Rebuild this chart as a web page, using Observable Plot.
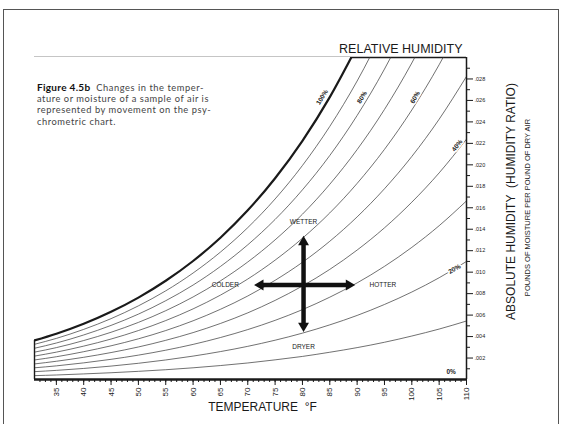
<!DOCTYPE html>
<html><head><meta charset="utf-8">
<script src="https://cdn.jsdelivr.net/npm/d3@7"></script>
<script src="https://cdn.jsdelivr.net/npm/@observablehq/plot@0.6"></script>
<style>
body{margin:0;background:#fff;}
#wrap{position:relative;width:563px;height:424px;overflow:hidden;background:#fff;}
#chart{position:absolute;left:0;top:0;}
#border{position:absolute;left:3px;top:9px;width:556px;height:430px;border:1.5px solid #555;box-sizing:border-box;pointer-events:none;}
#caption{position:absolute;left:37px;top:82px;font-family:Lato,sans-serif;font-size:9.3px;line-height:11.2px;color:#444;white-space:nowrap;letter-spacing:0.55px;}
#caption b{font-size:10px;color:#111;letter-spacing:0.3px;}
</style></head><body>
<div id="wrap"><div id="chart"></div><div id="border"></div>
<div id="caption"><b>Figure 4.5b</b>&nbsp; Changes in the temper-<br>ature or moisture of a sample of air is<br>represented by movement on the psy-<br>chrometric chart.</div></div>
<script>
// Temperatures (°F) at which the curves were read
const temps = [31,35,40,45,50,55,60,65,70,75,80,85,90,95,100,105,110];
// Humidity ratio (lb moisture / lb dry air) for each relative-humidity curve
const rh100 = [0.00364,0.00426,0.00519,0.00631,0.00763,0.00920,0.01104,0.01321,0.01576,0.01875,0.02224,0.02631,0.03105];
const rh90  = [0.00328,0.00383,0.00467,0.00567,0.00686,0.00826,0.00992,0.01187,0.01415,0.01682,0.01994,0.02358,0.02781,0.03273];
const rh80  = [0.00291,0.00340,0.00415,0.00504,0.00609,0.00734,0.00880,0.01053,0.01255,0.01491,0.01767,0.02087,0.02460,0.02892,0.03393];
const rh70  = [0.00255,0.00297,0.00363,0.00440,0.00532,0.00641,0.00769,0.00919,0.01095,0.01301,0.01540,0.01819,0.02142,0.02516,0.02949,0.03449];
const rh60  = [0.00218,0.00255,0.00311,0.00377,0.00456,0.00549,0.00658,0.00786,0.00936,0.01112,0.01316,0.01552,0.01827,0.02144,0.02511,0.02933,0.03419];
const rh50  = [0.00182,0.00212,0.00259,0.00314,0.00379,0.00456,0.00547,0.00654,0.00778,0.00924,0.01092,0.01288,0.01515,0.01777,0.02078,0.02425,0.02824];
const rh40  = [0.00145,0.00170,0.00207,0.00251,0.00303,0.00365,0.00437,0.00522,0.00621,0.00737,0.00871,0.01026,0.01206,0.01413,0.01652,0.01925,0.02239];
const rh30  = [0.00109,0.00127,0.00155,0.00188,0.00227,0.00273,0.00327,0.00391,0.00465,0.00551,0.00651,0.00767,0.00900,0.01054,0.01231,0.01433,0.01664];
const rh20  = [0.00073,0.00085,0.00103,0.00125,0.00151,0.00182,0.00218,0.00260,0.00309,0.00366,0.00432,0.00509,0.00597,0.00699,0.00815,0.00948,0.01100];
const rh10  = [0.00036,0.00042,0.00052,0.00063,0.00076,0.00091,0.00109,0.00130,0.00154,0.00183,0.00215,0.00254,0.00297,0.00347,0.00405,0.00470,0.00545];
const rhLevels = [100,90,80,70,60,50,40,30,20,10];

// Axes
const xDomain = [31, 110];
const yDomain = [0, 0.030];
const xMajor = [35,40,45,50,55,60,65,70,75,80,85,90,95,100,105,110];
const xMinor = d3.range(32, 111);
const yMajor = [0.002,0.004,0.006,0.008,0.010,0.012,0.014,0.016,0.018,0.020,0.022,0.024,0.026,0.028];
const yMinor = [0.001,0.003,0.005,0.007,0.009,0.011,0.013,0.015,0.017,0.019,0.021,0.023,0.025,0.027,0.029];

// Curve labels
const labelText = ["100%","80%","60%","40%","20%","0%"];
const labelT = [83.6, 90.9, 100.6, 108.3, 107.8, 107.2];
const labelW = [0.0263, 0.0263, 0.0263, 0.0218, 0.0103, 0.0007];
const labelAngle = [-58, -60, -60, -52, -30, 0];

// Direction arrows (centre and head positions)
const arrowCenterT = 80.2, arrowCenterW = 0.0088;
const headName = ["up","down","left","right"];
const headT = [80.2, 80.2, 72.3, 88.5];
const headW = [0.0128, 0.0050, 0.0088, 0.0088];
const headAngle = [0, 180, -90, 90];
const dirText = ["WETTER","DRYER","COLDER","HOTTER"];
const dirT = [80.2, 80.2, 65.9, 94.7];
const dirW = [0.0147, 0.0030, 0.0088, 0.0088];

const series = [rh100,rh90,rh80,rh70,rh60,rh50,rh40,rh30,rh20,rh10];
const rows = [];
series.forEach((vals, i) => vals.forEach((w, j) => rows.push({rh: rhLevels[i], t: temps[j], w})));
const sat = rh100.map((w, j) => ({t: temps[j], w}));
const labels = labelText.map((s, i) => ({s, t: labelT[i], w: labelW[i], a: labelAngle[i]}));
const heads = headName.map((n, i) => ({t: headT[i], w: headW[i], a: headAngle[i]}));
const shafts = heads.map(h => ({t1: arrowCenterT, w1: arrowCenterW, t2: h.t, w2: h.w}));
const dirs = dirText.map((s, i) => ({s, t: dirT[i], w: dirW[i]}));
const fmtY = d => d3.format(".3f")(d).replace(/^0/, "");

const ink = "#1a1a1a";
const chart = Plot.plot({
  width: 563, height: 424,
  marginLeft: 34, marginRight: 97, marginTop: 57, marginBottom: 45,
  style: {fontFamily: "'Liberation Sans', Arial, sans-serif", background: "transparent", color: ink},
  x: {domain: xDomain},
  y: {domain: yDomain},
  marks: [
    Plot.ruleY([yDomain[1]], {stroke: ink, strokeWidth: 1.6}),
    Plot.areaY(sat, {x: "t", y1: "w", y2: yDomain[1], fill: "white", curve: "monotone-x", clip: true}),
    Plot.line(rows.filter(d => d.rh < 100), {x: "t", y: "w", z: "rh", stroke: "#333", strokeWidth: 0.7, curve: "monotone-x", clip: true}),
    Plot.line(sat, {x: "t", y: "w", stroke: ink, strokeWidth: 2.2, curve: "monotone-x", clip: true}),
    Plot.ruleX([temps[0]], {y1: 0, y2: rh100[0], stroke: ink, strokeWidth: 1.4}),
    Plot.ruleX([xDomain[1]], {stroke: ink, strokeWidth: 1.5}),
    Plot.ruleY([0], {stroke: ink, strokeWidth: 2.3}),
    Plot.axisX({ticks: xMinor, tickSize: 3, tickFormat: () => "", label: null, stroke: ink}),
    Plot.axisX({ticks: xMajor, tickSize: 6, tickRotate: -90, tickPadding: 2, fontSize: 8, label: null, stroke: ink, fill: ink}),
    Plot.axisY({anchor: "right", ticks: yMinor, tickSize: 3, tickFormat: () => "", label: null, stroke: ink}),
    Plot.axisY({anchor: "right", ticks: yMajor, tickSize: 6, tickPadding: 2, fontSize: 5.5, tickFormat: fmtY, label: null, stroke: ink, fill: ink}),
    Plot.text(labels, {x: "t", y: "w", text: "s", rotate: "a", fontSize: 6.5, fontWeight: "bold", fill: ink, stroke: "white", strokeWidth: 3}),
    Plot.link(shafts, {x1: "t1", y1: "w1", x2: "t2", y2: "w2", stroke: "#111", strokeWidth: 4.5}),
    Plot.dot(heads, {x: "t", y: "w", rotate: "a", symbol: "triangle2", r: 5.2, fill: "#111"}),
    Plot.text(dirs, {x: "t", y: "w", text: "s", fontSize: 6.5, fill: ink}),
    Plot.text(["RELATIVE HUMIDITY"], {text: d => d, frameAnchor: "top-right", textAnchor: "end", lineAnchor: "bottom", dx: -4, dy: -5, fontSize: 12.5, fill: ink}),
    Plot.text(["TEMPERATURE\u00a0\u00a0°F"], {text: d => d, frameAnchor: "bottom", textAnchor: "middle", lineAnchor: "bottom", dx: 12, dy: 31, fontSize: 12, fill: ink}),
    Plot.text(["ABSOLUTE HUMIDITY\u00a0\u00a0(HUMIDITY RATIO)"], {text: d => d, frameAnchor: "right", textAnchor: "middle", lineAnchor: "middle", rotate: -90, dx: 45, dy: -17, fontSize: 12, fill: ink}),
    Plot.text(["POUNDS OF MOISTURE PER POUND OF DRY AIR"], {text: d => d, frameAnchor: "right", textAnchor: "middle", lineAnchor: "middle", rotate: -90, dx: 61, dy: -11, fontSize: 7.5, fill: ink})
  ]
});
document.getElementById("chart").appendChild(chart);
</script>
</body></html>
